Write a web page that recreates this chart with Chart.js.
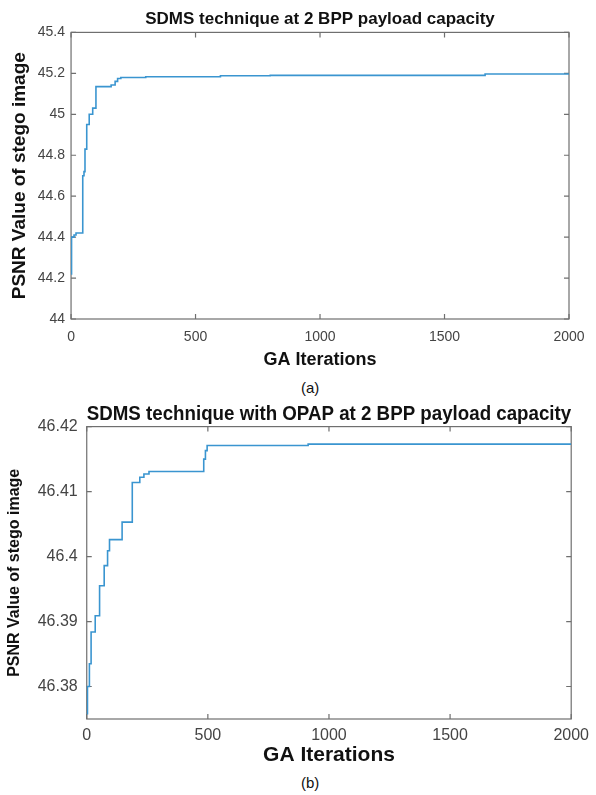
<!DOCTYPE html>
<html>
<head>
    <meta charset="utf-8">
    <script src="https://cdn.jsdelivr.net/npm/chart.js@4.4.1/dist/chart.umd.min.js"></script>
    <style>
        body {
            margin: 0;
            background: #fff;
            width: 596px;
            height: 795px;
            position: relative;
            overflow: hidden;
            font-family: 'Liberation Sans', Arial, Helvetica, sans-serif;
        }
        .panel {
            position: absolute;
            left: 0;
            width: 596px;
            height: 375px;
        }
        .caption {
            position: absolute;
            left: 301px;
            font-size: 15px;
            line-height: 18px;
            color: #111;
        }
    </style>
</head>
<body>
    <div class="panel" style="top:0"><canvas id="chartA" width="596" height="375" role="img" aria-label="PSNR vs GA iterations, SDMS"></canvas></div>
    <div class="caption" style="top:379px">(a)</div>
    <div class="panel" style="top:395px"><canvas id="chartB" width="596" height="375" role="img" aria-label="PSNR vs GA iterations, SDMS with OPAP"></canvas></div>
    <div class="caption" style="top:774px">(b)</div>

<script>
    // Data: iteration where the best PSNR changes, and its value
    const iterA = [0, 2, 12, 20, 47, 52, 56, 63, 73, 87, 100, 161, 177, 187, 200, 300, 600, 800, 1663, 2000];
    const psnrA = [44.22, 44.40, 44.41, 44.42, 44.70, 44.72, 44.83, 44.95, 45.00, 45.03, 45.135, 45.143, 45.161, 45.175, 45.18, 45.183, 45.188, 45.19, 45.197, 45.197];

    const iterB = [0, 3, 11, 18, 35, 53, 72, 86, 94, 146, 188, 219, 236, 257, 483, 490, 497, 914, 2000];
    const psnrB = [46.3758, 46.380, 46.3835, 46.3884, 46.3909, 46.3955, 46.3986, 46.4009, 46.4026, 46.4053, 46.4114, 46.4122, 46.4127, 46.4131, 46.4150, 46.4163, 46.4171, 46.4173, 46.4173];

    // Ticks
    const xTicks = [0, 500, 1000, 1500, 2000];
    const xTickLabels = ['0', '500', '1000', '1500', '2000'];
    const yTicksA = [44, 44.2, 44.4, 44.6, 44.8, 45, 45.2, 45.4];
    const yTickLabelsA = ['44', '44.2', '44.4', '44.6', '44.8', '45', '45.2', '45.4'];
    const yTicksB = [46.38, 46.39, 46.40, 46.41, 46.42];
    const yTickLabelsB = ['46.38', '46.39', '46.4', '46.41', '46.42'];

    const FONT = "'Liberation Sans', Arial, Helvetica, sans-serif";
    const axisColor = '#6f6f6f';
    const lineColor = '#3a95d0';

    // box round the plot with inward ticks, like the matlab figure
    const frame = {
        id: 'frame',
        beforeDatasetsDraw(chart) {
            const { ctx, chartArea: a, scales: { x, y } } = chart;
            ctx.save();
            ctx.strokeStyle = axisColor;
            ctx.lineWidth = 1.2;
            ctx.strokeRect(a.left, a.top, a.right - a.left, a.bottom - a.top);
            ctx.beginPath();
            x.ticks.forEach(t => {
                const px = x.getPixelForValue(t.value);
                ctx.moveTo(px, a.bottom); ctx.lineTo(px, a.bottom - 5);
                ctx.moveTo(px, a.top); ctx.lineTo(px, a.top + 5);
            });
            y.ticks.forEach(t => {
                const py = y.getPixelForValue(t.value);
                ctx.moveTo(a.left, py); ctx.lineTo(a.left + 5, py);
                ctx.moveTo(a.right, py); ctx.lineTo(a.right - 5, py);
            });
            ctx.stroke();
            ctx.restore();
        }
    };

    const makeChart = (canvasId, iters, values, cfg) => {
        return new Chart(document.getElementById(canvasId), {
            type: 'line',
            data: {
                datasets: [{
                    data: iters.map((it, i) => ({ x: it, y: values[i] })),
                    borderColor: lineColor,
                    borderWidth: 1.6,
                    pointRadius: 0,
                    stepped: 'before', // hold the value, then jump at the next iteration
                    fill: false
                }]
            },
            options: {
                responsive: false,
                animation: false,
                events: [],
                layout: { padding: { left: 0, right: cfg.padRight, top: 0, bottom: 0 } },
                plugins: {
                    legend: { display: false },
                    tooltip: { enabled: false },
                    title: {
                        display: true,
                        text: cfg.title,
                        fullSize: false,
                        color: '#111',
                        font: { family: FONT, size: cfg.titleSize, weight: 'bold' },
                        padding: cfg.titlePad
                    }
                },
                scales: {
                    x: {
                        type: 'linear',
                        min: 0,
                        max: 2000,
                        grid: { display: false, drawTicks: false },
                        border: { display: false },
                        afterBuildTicks: s => { s.ticks = xTicks.map(v => ({ value: v })); },
                        ticks: {
                            color: '#444',
                            padding: cfg.xTickPad,
                            maxRotation: 0,
                            font: { family: FONT, size: cfg.tickSize },
                            callback: (v, i) => xTickLabels[i]
                        },
                        title: {
                            display: true,
                            text: 'GA Iterations',
                            color: '#111',
                            font: { family: FONT, size: cfg.xTitleSize, weight: 'bold' },
                            padding: cfg.xTitlePad
                        }
                    },
                    y: {
                        min: cfg.yMin,
                        max: cfg.yMax,
                        grid: { display: false, drawTicks: false },
                        border: { display: false },
                        afterBuildTicks: s => { s.ticks = cfg.yTicks.map(v => ({ value: v })); },
                        ticks: {
                            color: '#444',
                            padding: cfg.yTickPad,
                            font: { family: FONT, size: cfg.tickSize },
                            callback: (v, i) => cfg.yTickLabels[i]
                        },
                        title: {
                            display: true,
                            text: 'PSNR Value of stego image',
                            color: '#111',
                            font: { family: FONT, size: cfg.yTitleSize, weight: 'bold' },
                            padding: cfg.yTitlePad
                        }
                    }
                }
            },
            plugins: [frame]
        });
    };

    makeChart('chartA', iterA, psnrA, {
        title: 'SDMS technique at 2 BPP payload capacity',
        titleSize: 17,
        titlePad: { top: 9, bottom: 3 },
        padRight: 27,
        tickSize: 14,
        xTickPad: 10,
        xTitleSize: 18,
        xTitlePad: { top: -6.4, bottom: 4 },
        yTickPad: 6,
        yTitleSize: 19,
        yTitlePad: { top: 8.6, bottom: 0.4 },
        yMin: 44,
        yMax: 45.4,
        yTicks: yTicksA,
        yTickLabels: yTickLabelsA
    });

    makeChart('chartB', iterB, psnrB, {
        title: 'SDMS technique with OPAP at 2 BPP payload capacity',
        titleSize: 21,
        titlePad: { top: 6.4, bottom: 0 },
        padRight: 24,
        tickSize: 16,
        xTickPad: 7,
        xTitleSize: 21,
        xTitlePad: { top: -9.8, bottom: 2.4 },
        yTickPad: 9,
        yTitleSize: 16,
        yTitlePad: { top: 5, bottom: 4.5 },
        yMin: 46.375,
        yMax: 46.42,
        yTicks: yTicksB,
        yTickLabels: yTickLabelsB
    });
</script>
</body>
</html>
